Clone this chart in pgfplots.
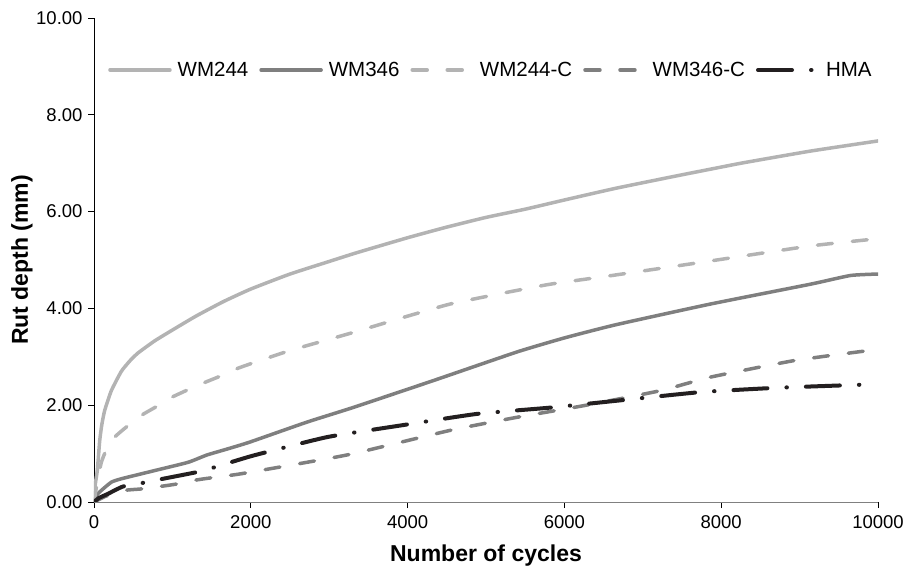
\documentclass[border=0pt]{standalone}
\usepackage{pgfplots}
\pgfplotsset{compat=1.18}
\usepackage{fontspec}
\setmainfont{Liberation Sans}
\definecolor{lg}{HTML}{B3B3B3}
\definecolor{dg}{HTML}{7F7F7F}
\definecolor{bk}{HTML}{231F20}
\begin{document}
\begin{tikzpicture}
\begin{axis}[
  scale only axis, width=784bp, height=484bp,
  xmin=0, xmax=10000, ymin=0, ymax=10,
  axis x line*=bottom, axis y line*=left,
  x axis line style={-, draw=gray, line width=0.9bp},
  y axis line style={-, draw=black, line width=0.9bp},
  xtick={0,2000,4000,6000,8000,10000}, ytick={0,2,4,6,8,10},
  scaled x ticks=false, scaled y ticks=false,
  tick align=outside, major tick length=6bp,
  tick style={black, line width=0.9bp},
  /pgf/number format/assume math mode=true,
  xticklabel style={font=\fontsize{18.5bp}{20bp}\selectfont, yshift=-4bp, /pgf/number format/1000 sep={}},
  yticklabel style={font=\fontsize{18.5bp}{20bp}\selectfont, xshift=-2bp, /pgf/number format/fixed, /pgf/number format/fixed zerofill, /pgf/number format/precision=2},
  xlabel={Number of cycles},
  ylabel={Rut depth (mm)},
  xlabel style={font=\fontsize{23bp}{25bp}\selectfont\bfseries, at={(axis description cs:0.5,-0.12397)}, anchor=base, inner sep=0pt},
  ylabel style={font=\fontsize{23bp}{25bp}\selectfont\bfseries, at={(axis description cs:-0.08418,0.5)}, anchor=base, inner sep=0pt},
  legend columns=-1,
  legend image code/.code={\draw[#1] (0bp,0bp) -- (60bp,0bp);},
  legend style={draw=none, fill=none, at={(axis description cs:0.0179,0.8926)}, anchor=west, inner sep=0pt,
    font=\fontsize{20.5bp}{22bp}\selectfont, nodes={inner sep=0pt},
    /tikz/every odd column/.append style={column sep=6bp},
    /tikz/every even column/.append style={column sep=11bp}},
  every axis plot/.append style={line cap=round, line join=round, smooth, tension=0.3},
]
\coordinate (bl) at (rel axis cs:0,0);
\addplot[lg, line width=3.5bp] coordinates {(0,0) (15,0.35) (42,0.65) (73,1.27) (100,1.6) (136,1.89) (221,2.30) (349,2.70) (460,2.92) (562,3.08) (775,3.33) (987,3.54) (1300,3.84) (1650,4.14) (2000,4.40) (2500,4.71) (3000,4.97) (3350,5.15) (4000,5.46) (4500,5.68) (5000,5.88) (5500,6.05) (6000,6.24) (6650,6.48) (7437,6.74) (8000,6.92) (8287,7.01) (9138,7.25) (10000,7.46)};
\addlegendentry{WM244}
\addplot[dg, line width=3.5bp] coordinates {(0,0) (40,0.15) (94,0.24) (221,0.41) (349,0.48) (775,0.65) (1200,0.82) (1438,0.97) (1710,1.10) (1991,1.24) (2715,1.65) (3300,1.95) (4331,2.51) (5395,3.10) (6000,3.39) (6650,3.66) (7862,4.09) (9138,4.50) (9649,4.68) (10000,4.71)};
\addlegendentry{WM346}
\addplot[lg, line width=3.5bp, dash pattern=on 15bp off 20bp] coordinates {(0,0) (45,0.45) (94,0.82) (150,1.05) (264,1.34) (413,1.55) (604,1.79) (795,1.97) (987,2.16) (1200,2.32) (1413,2.47) (1625,2.61) (1863,2.78) (2502,3.13) (3300,3.5) (4000,3.84) (4542,4.09) (5200,4.31) (5819,4.50) (6650,4.69) (7862,4.98) (9138,5.29) (10000,5.44)};
\addlegendentry{WM244-C}
\addplot[dg, line width=3.5bp, dash pattern=on 15bp off 20bp] coordinates {(0,0) (150,0.12) (391,0.24) (604,0.27) (838,0.32) (1050,0.37) (1285,0.45) (1497,0.50) (1863,0.58) (2715,0.82) (3310,1.0) (4542,1.48) (5395,1.75) (6245,1.99) (7224,2.30) (7862,2.58) (8925,2.92) (9883,3.13) (10000,3.15)};
\addlegendentry{WM346-C}
\addplot[bk, line width=4bp, dash pattern=on 34bp off 19bp on 0.5bp off 19bp] coordinates {(0,0) (60,0.08) (179,0.17) (370,0.32) (638,0.40) (881,0.48) (1349,0.63) (1583,0.74) (2033,0.96) (2970,1.34) (3906,1.58) (4884,1.82) (5819,1.95) (6713,2.10) (7734,2.27) (8713,2.36) (9904,2.43) (10000,2.44)};
\addlegendentry{HMA}
\end{axis}
\pgfresetboundingbox
\path[use as bounding box] ([xshift=-94bp,yshift=-64bp]bl) rectangle ([xshift=812bp,yshift=502bp]bl);
\end{tikzpicture}
\end{document}
